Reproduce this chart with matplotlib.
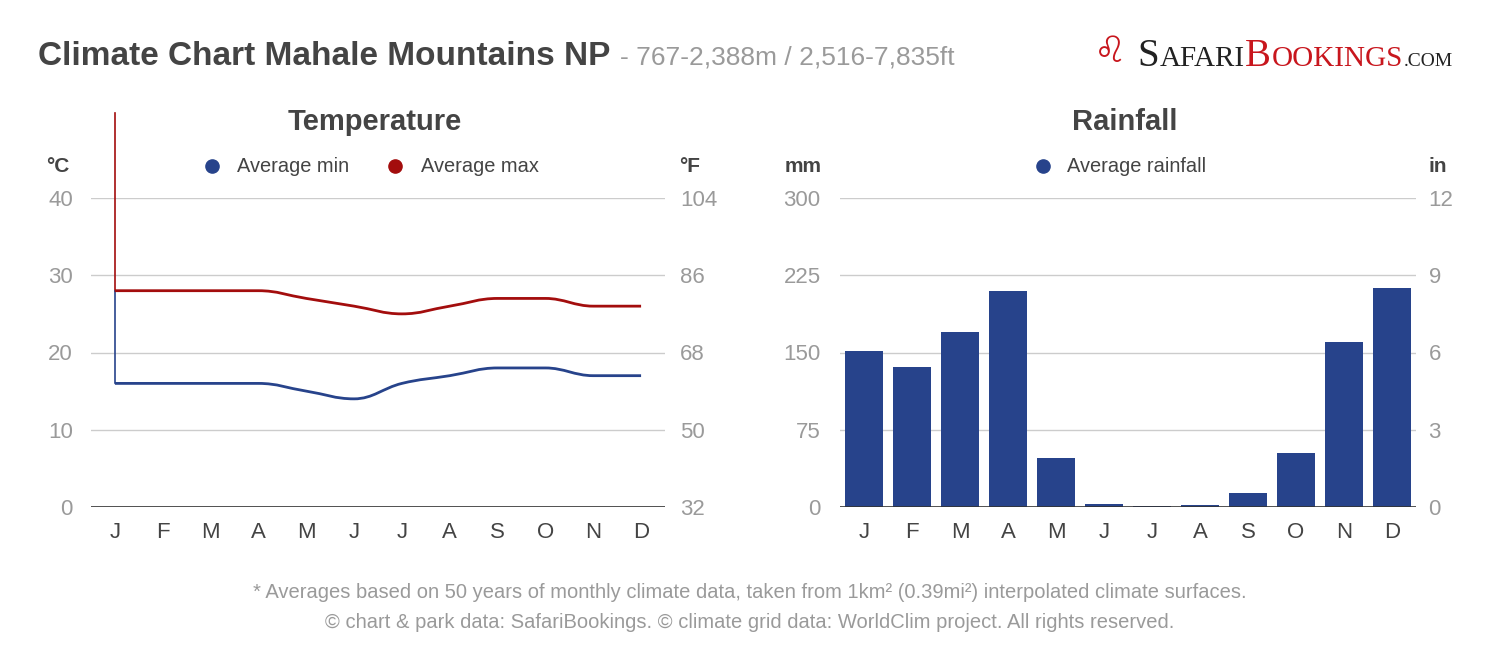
import numpy as np
import matplotlib
matplotlib.use("Agg")
import matplotlib.pyplot as plt
from matplotlib.path import Path
from matplotlib.patches import PathPatch
from matplotlib.lines import Line2D
import matplotlib.transforms as mtransforms

plt.rcParams['font.family'] = ['Liberation Sans', 'DejaVu Sans']

months = ['J', 'F', 'M', 'A', 'M', 'J', 'J', 'A', 'S', 'O', 'N', 'D']
temp_min = [16, 16, 16, 16, 15, 14, 16, 17, 18, 18, 17, 17]
temp_max = [28, 28, 28, 28, 27, 26, 25, 26, 27, 27, 26, 26]
rainfall = [151, 136, 170, 210, 48, 3, 1, 2, 14, 52, 160, 213]
c_ticks = [0, 10, 20, 30, 40]
f_ticks = [32, 50, 68, 86, 104]
mm_ticks = [0, 75, 150, 225, 300]
in_ticks = [0, 3, 6, 9, 12]

BLUE = '#27438b'
RED = '#a30d0d'
GRID = '#cccccc'
TICK = '#9a9a9a'
DARK = '#444444'

W, H = 1500, 652
fig = plt.figure(figsize=(W / 100, H / 100), dpi=100)


def fx(px):
    return px / W


def fy(py):
    return 1 - py / H


def spline_path(xs, ys, smoothing=1.5):
    xs = np.asarray(xs, float)
    ys = np.asarray(ys, float)
    n = len(xs)
    denom = smoothing + 1
    lc = [(xs[i], ys[i]) for i in range(n)]
    rc = [(xs[i], ys[i]) for i in range(n)]
    for i in range(1, n - 1):
        lx, ly = xs[i - 1], ys[i - 1]
        px, py = xs[i], ys[i]
        nx, ny = xs[i + 1], ys[i + 1]
        lcx = (smoothing * px + lx) / denom
        lcy = (smoothing * py + ly) / denom
        rcx = (smoothing * px + nx) / denom
        rcy = (smoothing * py + ny) / denom
        corr = 0
        if rcx != lcx:
            corr = ((rcy - lcy) * (rcx - px)) / (rcx - lcx) + py - rcy
        lcy += corr
        rcy += corr
        if lcy > ly and lcy > py:
            lcy = max(ly, py)
            rcy = 2 * py - lcy
        elif lcy < ly and lcy < py:
            lcy = min(ly, py)
            rcy = 2 * py - lcy
        if rcy > ny and rcy > py:
            rcy = max(ny, py)
            lcy = 2 * py - rcy
        elif rcy < ny and rcy < py:
            rcy = min(ny, py)
            lcy = 2 * py - rcy
        lc[i] = (lcx, lcy)
        rc[i] = (rcx, rcy)
    verts = [(xs[0], ys[0])]
    codes = [Path.MOVETO]
    for i in range(1, n):
        verts += [rc[i - 1], lc[i], (xs[i], ys[i])]
        codes += [Path.CURVE4] * 3
    return Path(verts, codes)


# ---------------- Temperature ----------------
axL = fig.add_axes([fx(91), fy(507), fx(665 - 91), (507 - 198) / H])
x = np.arange(len(months))
axL.set_xlim(-0.5, 11.5)
axL.set_ylim(0, 40)
axL.set_yticks(c_ticks)
axL.set_xticks(x)
axL.set_xticklabels(months)
for v in c_ticks[1:]:
    axL.axhline(v, color=GRID, lw=1, zorder=0)
axL.axhline(0, color='#333333', lw=1.2, zorder=1)
for s in axL.spines.values():
    s.set_visible(False)
axL.tick_params(axis='y', length=0, pad=13, labelsize=16, labelcolor=TICK)
axL.tick_params(axis='x', length=0, pad=11, labelsize=16, labelcolor=DARK)

axL.add_patch(PathPatch(spline_path(x, temp_min), fill=False, edgecolor=BLUE, lw=2, zorder=3))
axL.add_patch(PathPatch(spline_path(x, temp_max), fill=False, edgecolor=RED, lw=2, zorder=3))
# vertical artefact lines at the first month
trans = mtransforms.blended_transform_factory(axL.transData, axL.transAxes)
y0 = axL.get_ylim()[1]
axL.add_line(Line2D([x[0], x[0]], [temp_max[0] / y0, (507 - 113) / (507 - 198)], transform=trans,
                    color=RED, lw=1.2, clip_on=False, zorder=2))
axL.plot([x[0], x[0]], [temp_min[0], temp_max[0]], color=BLUE, lw=1.2, zorder=2)

axF = axL.twinx()
axF.set_ylim(32, 104)
axF.set_yticks(f_ticks)
for s in axF.spines.values():
    s.set_visible(False)
axF.tick_params(axis='y', length=0, pad=11, labelsize=16, labelcolor=TICK)

# ---------------- Rainfall ----------------
axR = fig.add_axes([fx(840), fy(507), fx(1416 - 840), (507 - 198) / H])
axR.set_xlim(-0.5, 11.5)
axR.set_ylim(0, 300)
axR.set_yticks(mm_ticks)
axR.set_xticks(x)
axR.set_xticklabels(months)
for v in mm_ticks[1:]:
    axR.axhline(v, color=GRID, lw=1, zorder=0)
axR.bar(x, rainfall, width=0.78, color=BLUE, zorder=2)
axR.axhline(0, color='#333333', lw=1.2, zorder=3)
for s in axR.spines.values():
    s.set_visible(False)
axR.tick_params(axis='y', length=0, pad=14, labelsize=16, labelcolor=TICK)
axR.tick_params(axis='x', length=0, pad=11, labelsize=16, labelcolor=DARK)

axI = axR.twinx()
axI.set_ylim(0, 12)
axI.set_yticks(in_ticks)
for s in axI.spines.values():
    s.set_visible(False)
axI.tick_params(axis='y', length=0, pad=9, labelsize=16, labelcolor=TICK)

# ---------------- Texts ----------------
fig.text(fx(38), fy(65), 'Climate Chart Mahale Mountains NP', fontsize=24, fontweight='bold',
         color=DARK, va='baseline', ha='left')
fig.text(fx(620), fy(65), '- 767-2,388m / 2,516-7,835ft', fontsize=19, color=TICK,
         va='baseline', ha='left')

fig.text(fx(375), fy(130), 'Temperature', fontsize=21, fontweight='bold', color=DARK,
         ha='center', va='baseline')
fig.text(fx(1125), fy(130), 'Rainfall', fontsize=21, fontweight='bold', color=DARK,
         ha='center', va='baseline')

for px, lab in [(58, '°C'), (690, '°F'), (803, 'mm'), (1438, 'in')]:
    fig.text(fx(px), fy(166), lab, fontsize=15, fontweight='bold', color=DARK,
             ha='center', va='center')

for mx, tx, col, lab in [(212, 237, BLUE, 'Average min'), (395, 421, RED, 'Average max'),
                          (1043, 1067, BLUE, 'Average rainfall')]:
    fig.add_artist(Line2D([fx(mx)], [fy(166)], marker='o', markersize=9.5, color=col,
                          transform=fig.transFigure, lw=0))
    fig.text(fx(tx), fy(166), lab, fontsize=14.4, color=DARK, ha='left', va='center')

fig.text(0.5, fy(592), '* Averages based on 50 years of monthly climate data, taken from 1km² (0.39mi²) '
         'interpolated climate surfaces.', fontsize=14.5, color=TICK, ha='center', va='center')
fig.text(0.5, fy(622), '© chart & park data: SafariBookings. © climate grid data: WorldClim project. '
         'All rights reserved.', fontsize=14.5, color=TICK, ha='center', va='center')

# logo
renderer = fig.canvas.get_renderer()
pieces = [('S', 28, '#222222'), ('AFARI', 21, '#222222'), ('B', 28, '#c8161d'),
          ('OOKINGS', 21, '#c8161d'), ('.COM', 14, '#222222')]
cur = fx(1137)
for txt, sz, col in pieces:
    t = fig.text(cur, fy(66), txt, fontsize=sz, color=col, family='Liberation Serif',
                 ha='left', va='baseline')
    bb = t.get_window_extent(renderer)
    cur += bb.width / W + 0.0005
fig.text(fx(1110), fy(52), '♌', fontsize=26, color='#c8161d', family='DejaVu Sans',
         ha='center', va='center')

fig.savefig('out.png', dpi=100, facecolor='white')
